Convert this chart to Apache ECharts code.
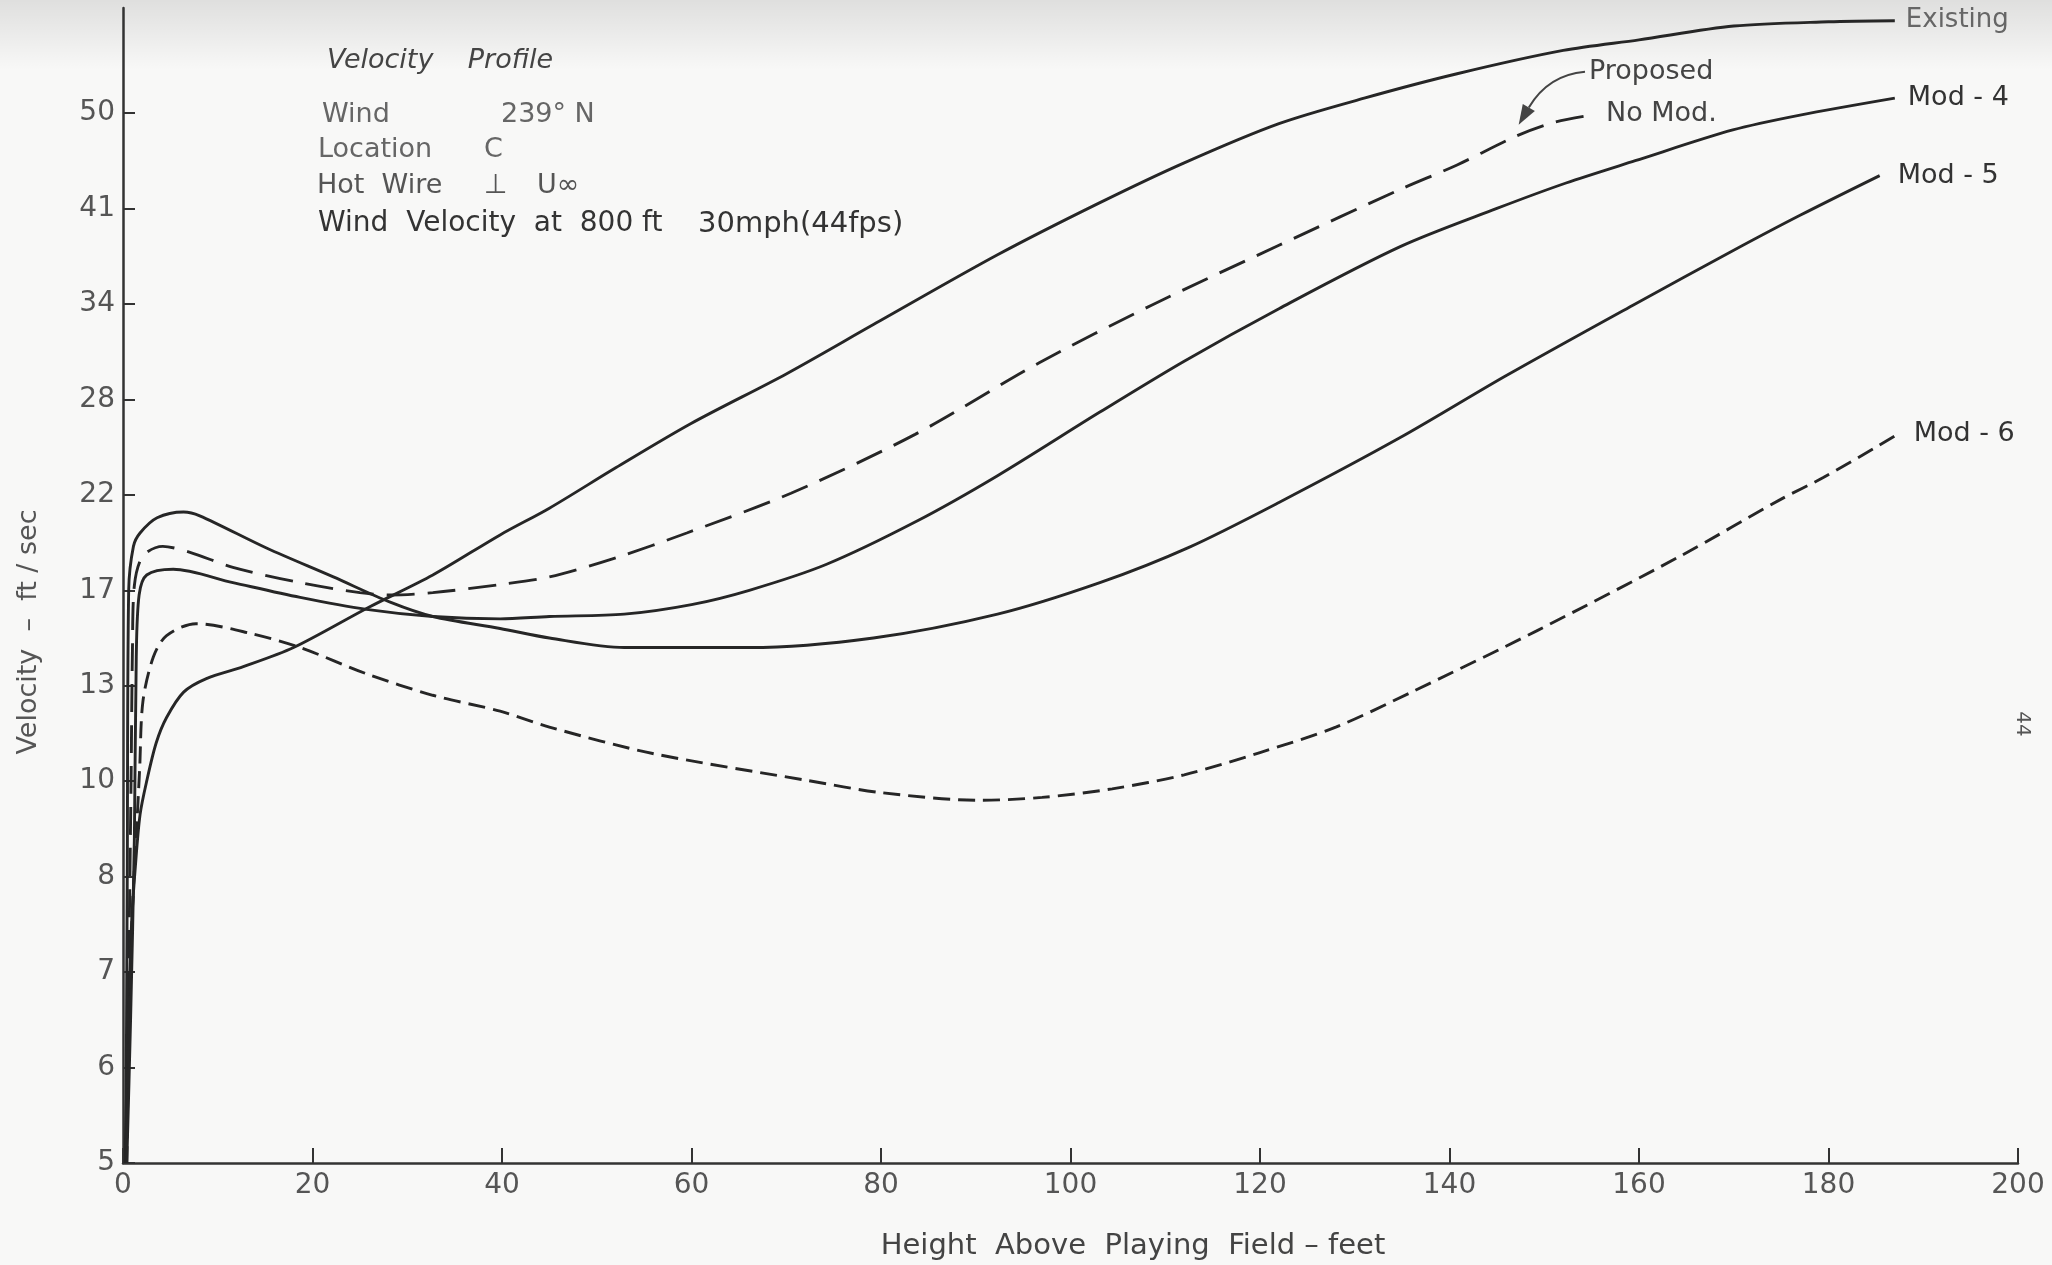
<!DOCTYPE html>
<html>
<head>
<meta charset="utf-8">
<script src="https://cdn.jsdelivr.net/npm/echarts@6/dist/echarts.min.js"></script>
<style>
html,body{margin:0;padding:0;background:#f8f8f7;}
#chart{width:2052px;height:1265px;}
</style>
</head>
<body>
<div id="chart"></div>
<script>
// ---- Axis tick labels (the velocity axis has evenly spaced, non-uniform labels) ----
const yTickLabels = [5, 6, 7, 8, 10, 13, 17, 22, 28, 34, 41, 50];
const xTickValues = [0, 20, 40, 60, 80, 100, 120, 140, 160, 180, 200];

// ---- Series: height above playing field (ft) and velocity (ft/sec) ----
const existingX = [0.2, 0.5, 0.9, 1.3, 1.8, 2.5, 3.5, 4.6, 6.4, 8.8, 12.7, 18, 26, 32.7, 39.8, 45, 52, 60, 70, 79.2, 92.3, 103, 112, 122, 131, 140.8, 152, 160, 170, 180, 187];
const existingV = [5, 6.2, 7.5, 8.2, 9.3, 10, 11.2, 12.0, 12.8, 13.3, 13.8, 14.6, 16.3, 17.8, 19.9, 21.3, 23.7, 26.5, 29.6, 32.7, 37.6, 41.5, 45.3, 49.0, 51.4, 53.7, 55.9, 56.9, 58.2, 58.6, 58.7];

const noModX = [0.3, 0.6, 0.85, 1.0, 1.2, 2.1, 4.2, 7, 11.6, 18.7, 25, 28.2, 32.7, 39.8, 45, 52, 59.5, 70.5, 83.6, 96.7, 108.5, 122, 134.8, 140.8, 147, 151, 154.3];
const noModV = [5, 7, 10, 14.6, 17.25, 18.8, 19.3, 19.0, 18.2, 17.4, 16.9, 16.8, 16.9, 17.3, 17.7, 18.7, 20.0, 22.1, 25.8, 30.3, 33.9, 38.3, 42.8, 45.1, 47.8, 49.1, 49.7];

const mod4X = [0.4, 0.8, 1.2, 1.4, 1.7, 2.5, 5.3, 11.6, 18.7, 25.7, 32.7, 39.8, 45, 52.9, 60, 66.1, 74.2, 83.7, 92.3, 103.1, 112, 122, 134.8, 145, 152.3, 159.6, 169.9, 177, 187];
const mod4V = [5, 6.5, 8.8, 14.2, 16.8, 17.8, 18.1, 17.4, 16.7, 16.2, 15.9, 15.8, 15.9, 16.0, 16.4, 17.0, 18.35, 20.6, 23.2, 27.2, 30.4, 33.7, 38.2, 41.0, 43.4, 45.5, 48.4, 49.8, 51.4];

const mod5X = [0.3, 0.45, 0.6, 1.1, 1.8, 3.6, 6.4, 8.1, 15.2, 22.2, 28.2, 32.7, 39.8, 45, 52.9, 60, 66.1, 79.2, 92.3, 103.1, 112.5, 122, 134.8, 146, 159.6, 169.9, 177, 185.4];
const mod5V = [5, 8, 17, 19.3, 20.0, 20.8, 21.1, 20.9, 19.2, 17.7, 16.5, 15.9, 15.4, 15.0, 14.6, 14.6, 14.6, 15.0, 16.0, 17.4, 19.25, 21.6, 25.6, 29.5, 34.0, 37.9, 40.5, 44.1];

const mod6X = [0.4, 0.7, 1.06, 1.41, 1.76, 2.1, 3.2, 4.6, 7.7, 13.4, 18.7, 25.7, 32.7, 39.8, 45, 55.9, 72.1, 80, 90.4, 97, 104.4, 112, 120, 128, 136, 149.2, 164.4, 175.1, 179.5, 187.3];
const mod6V = [5, 6.8, 7.8, 8.9, 10.4, 12.5, 14.2, 15.1, 15.6, 15.2, 14.6, 13.5, 12.7, 12.2, 11.7, 10.87, 10.03, 9.76, 9.6, 9.66, 9.84, 10.2, 10.9, 11.7, 12.8, 15.3, 18.8, 21.8, 23.1, 25.8];

// Pointer arrow from the "Proposed" note to the No Mod. curve: start, bend, tip [ft, ft/sec]
const proposedArrow = [[154.3, 53.9], [150.4, 53.6], [147.3, 48.9]];

// Map a velocity onto the chart's evenly spaced tick scale (piecewise between labels)
function toAxis(v) {
  const t = yTickLabels;
  if (v <= t[0]) return (v - t[0]) / (t[1] - t[0]);
  for (let i = 0; i < t.length - 1; i++) {
    if (v <= t[i + 1]) return i + (v - t[i]) / (t[i + 1] - t[i]);
  }
  const n = t.length - 1;
  return n + (v - t[n]) / (t[n] - t[n - 1]);
}
function pts(xs, vs) { return xs.map((x, i) => [x, toAxis(vs[i])]); }

const FONT = 'DejaVu Sans';
const LINE = '#262626';

function lineSeries(name, xs, vs, dash, label, labelDist, extra) {
  const s = {
    name: name,
    type: 'line',
    data: pts(xs, vs),
    smooth: 0.3,
    showSymbol: false,
    symbol: 'none',
    lineStyle: { color: LINE, width: 2.9, type: dash || 'solid' },
    endLabel: {
      show: true,
      formatter: label,
      distance: labelDist,
      fontFamily: FONT,
      fontSize: 27,
      color: '#333'
    },
    silent: true,
    z: 3
  };
  return Object.assign(s, extra || {});
}

const chart = echarts.init(document.getElementById('chart'));

const yIdx = yTickLabels.map((_, i) => i);

function txt(x, y, text, size, fill, extra) {
  return Object.assign({ type: 'text', silent: true, x: x, y: y,
    style: { text: text, font: size + 'px "DejaVu Sans"', fill: fill, align: 'left', verticalAlign: 'middle', textAlign: 'left', textVerticalAlign: 'middle' } }, extra || {});
}

const option = {
  animation: false,
  backgroundColor: '#f8f8f7',
  grid: { left: 123, right: 34, top: 8, bottom: 102, containLabel: false },
  xAxis: {
    type: 'value',
    min: 0, max: 200, interval: 20,
    axisLine: { show: true, lineStyle: { color: '#333', width: 2.5 } },
    axisTick: { show: true, inside: true, length: 15, lineStyle: { color: '#333', width: 2 } },
    axisLabel: { color: '#555', fontSize: 28, fontFamily: FONT, margin: 9,
      formatter: v => (xTickValues.indexOf(v) >= 0 ? String(v) : '') },
    splitLine: { show: false }
  },
  yAxis: {
    type: 'value',
    min: 0, max: 12.1, interval: 1,
    axisLine: { show: true, lineStyle: { color: '#333', width: 2.5 } },
    axisTick: { show: true, inside: true, length: 12, lineStyle: { color: '#333', width: 2 }, customValues: yIdx },
    axisLabel: { color: '#555', fontSize: 28, fontFamily: FONT, margin: 8, customValues: yIdx,
      formatter: v => { const i = Math.round(v); return (Math.abs(v - i) < 1e-6 && i < yTickLabels.length) ? String(yTickLabels[i]) : ''; } },
    splitLine: { show: false }
  },
  series: [
    lineSeries('Existing', existingX, existingV, 'solid', 'Existing', 11, {
      endLabel: { show: true, formatter: 'Existing', distance: 11, fontFamily: FONT, fontSize: 26, color: '#666' }
    }),
    lineSeries('Proposed No Mod.', noModX, noModV, [28, 13], '', 4, {
      endLabel: {
        show: true,
        formatter: '{p|Proposed}\n{n|No Mod.}',
        distance: 4,
        offset: [0, -23],
        rich: {
          p: { fontFamily: FONT, fontSize: 27, lineHeight: 42, color: '#444' },
          n: { fontFamily: FONT, fontSize: 27, lineHeight: 42, color: '#444', padding: [0, 0, 0, 17] }
        }
      }
    }),
    lineSeries('Mod-4', mod4X, mod4V, 'solid', 'Mod - 4', 13),
    lineSeries('Mod-5', mod5X, mod5V, 'solid', 'Mod - 5', 18),
    lineSeries('Mod-6', mod6X, mod6V, [17, 8], 'Mod - 6', 16)
  ],
  graphic: [
    { type: 'rect', silent: true, z: -10, shape: { x: 0, y: 0, width: 2052, height: 70 },
      style: { fill: new echarts.graphic.LinearGradient(0, 0, 0, 1, [
        { offset: 0, color: 'rgba(0,0,0,0.10)' }, { offset: 1, color: 'rgba(0,0,0,0)' }]) } },
    { type: 'text', silent: true, x: 327, y: 61,
      style: { text: 'Velocity    Profile', font: 'italic 27px "DejaVu Sans"', fill: '#444', align: 'left', verticalAlign: 'middle', textAlign: 'left', textVerticalAlign: 'middle' } },
    txt(322, 115, 'Wind', 27, '#666'),
    txt(501, 115, '239° N', 27, '#666'),
    txt(318, 150, 'Location', 27, '#666'),
    txt(484, 150, 'C', 27, '#666'),
    txt(317, 186, 'Hot  Wire', 27, '#555'),
    txt(484, 186, '⊥', 27, '#555'),
    txt(537, 186, 'U∞', 27, '#555'),
    txt(318, 224, 'Wind  Velocity  at  800 ft', 28, '#333'),
    txt(698, 224, '30mph(44fps)', 29, '#333'),
    { type: 'text', silent: true, x: 29, y: 632, rotation: Math.PI / 2,
      style: { text: 'Velocity  –  ft / sec', font: '27px "DejaVu Sans"', fill: '#555', align: 'center', verticalAlign: 'middle', textAlign: 'center', textVerticalAlign: 'middle' } },
    { type: 'text', silent: true, x: 1133, y: 1246,
      style: { text: 'Height  Above  Playing  Field – feet', font: '29px "DejaVu Sans"', fill: '#444', align: 'center', verticalAlign: 'middle', textAlign: 'center', textVerticalAlign: 'middle' } },
    { type: 'text', silent: true, x: 2022, y: 724, rotation: -Math.PI / 2,
      style: { text: '44', font: '20px "DejaVu Sans"', fill: '#555', align: 'center', verticalAlign: 'middle', textAlign: 'center', textVerticalAlign: 'middle' } }
  ]
};

chart.setOption(option);

// Curved pointer arrow, placed from data coordinates through the chart's own scales
const ap = proposedArrow.map(p => chart.convertToPixel({ gridIndex: 0 }, [p[0], toAxis(p[1])]));
const tip = ap[2], ctl = ap[1];
const dx = tip[0] - ctl[0], dy = tip[1] - ctl[1];
const len = Math.sqrt(dx * dx + dy * dy);
const ux = dx / len, uy = dy / len;
const headL = 20, headW = 7;
const base = [tip[0] - ux * headL, tip[1] - uy * headL];
chart.setOption({
  graphic: option.graphic.concat([
    { type: 'bezierCurve', silent: true, z: 5,
      shape: { x1: ap[0][0], y1: ap[0][1], cpx1: ctl[0], cpy1: ctl[1], x2: base[0], y2: base[1] },
      style: { stroke: '#444', lineWidth: 2, fill: null } },
    { type: 'polygon', silent: true, z: 5,
      shape: { points: [tip, [base[0] - uy * headW, base[1] + ux * headW], [base[0] + uy * headW, base[1] - ux * headW]] },
      style: { fill: '#444' } }
  ])
});
</script>
</body>
</html>
